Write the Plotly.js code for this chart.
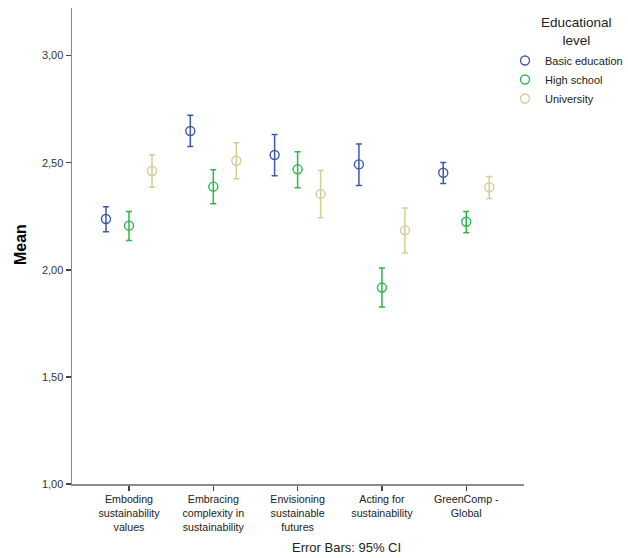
<!DOCTYPE html>
<html>
<head>
<meta charset="utf-8">
<script src="https://cdn.plot.ly/plotly-3.0.1.min.js"></script>
<style>html,body{margin:0;padding:0;background:#fff;}#chart{width:628px;height:558px;}</style>
</head>
<body>
<div id="chart"></div>
<script>
const categories = [
  "Emboding<br>sustainability<br>values",
  "Embracing<br>complexity in<br>sustainability",
  "Envisioning<br>sustainable<br>futures",
  "Acting for<br>sustainability",
  "GreenComp -<br>Global"
];
const groups = ["Basic education", "High school", "University"];
const colors = ["#3E58AC", "#2EB848", "#D3CE97"];

const basicMean  = [2.237, 2.648, 2.536, 2.492, 2.453];
const basicLower = [2.178, 2.575, 2.439, 2.394, 2.403];
const basicUpper = [2.294, 2.721, 2.631, 2.587, 2.501];

const highMean  = [2.206, 2.388, 2.469, 1.917, 2.224];
const highLower = [2.137, 2.308, 2.383, 1.826, 2.173];
const highUpper = [2.272, 2.467, 2.551, 2.008, 2.272];

const uniMean  = [2.461, 2.509, 2.354, 2.184, 2.385];
const uniLower = [2.385, 2.425, 2.243, 2.078, 2.333];
const uniUpper = [2.537, 2.593, 2.463, 2.288, 2.436];

const means = [basicMean, highMean, uniMean];
const lowers = [basicLower, highLower, uniLower];
const uppers = [basicUpper, highUpper, uniUpper];
const offsets = [-0.273, 0, 0.273];

const font = "Liberation Sans, Arial, sans-serif";

const traces = groups.map((g, k) => ({
  type: "scatter",
  mode: "markers",
  name: g,
  x: categories.map((c, i) => i + offsets[k]),
  y: means[k],
  marker: {symbol: "circle-open", size: 9, color: colors[k], line: {width: 1.4, color: colors[k]}},
  error_y: {
    type: "data", symmetric: false,
    array: means[k].map((m, i) => uppers[k][i] - m),
    arrayminus: means[k].map((m, i) => m - lowers[k][i]),
    color: colors[k], thickness: 1.5, width: 3
  },
  hoverinfo: "skip"
}));

const layout = {
  width: 628, height: 558,
  margin: {l: 72, r: 104, t: 8, b: 74, autoexpand: false},
  paper_bgcolor: "#fff", plot_bgcolor: "#fff",
  separators: ",.",
  font: {family: font, color: "#222", size: 11},
  showlegend: true,
  legend: {
    xref: "container", yref: "container",
    x: 505 / 628, xanchor: "left", y: 1 - 46 / 558, yanchor: "top",
    font: {family: font, size: 11, color: "#222"},
    bgcolor: "rgba(0,0,0,0)", borderwidth: 0, itemwidth: 30
  },
  xaxis: {
    range: [-0.676, 4.685],
    tickmode: "array", tickvals: categories.map((c, i) => i), ticktext: categories,
    showline: true, linecolor: "#8a8a8a", linewidth: 1.5,
    ticks: "outside", ticklen: 5, tickwidth: 1.5, tickcolor: "#444",
    showgrid: false, zeroline: false,
    tickfont: {family: font, size: 10.7, color: "#222"}
  },
  yaxis: {
    range: [1, 3.222],
    tickvals: [1, 1.5, 2, 2.5, 3], tickformat: ".2f",
    showline: true, linecolor: "#8a8a8a", linewidth: 1.5,
    ticks: "outside", ticklen: 5, tickwidth: 1.5, tickcolor: "#444",
    showgrid: false, zeroline: false,
    tickfont: {family: font, size: 11, color: "#333"}
  },
  annotations: [
    {text: "<b>Mean</b>", xref: "paper", yref: "paper", x: -0.115, xanchor: "center",
     y: 1 - (245 - 8) / 476, yanchor: "middle", textangle: -90,
     showarrow: false, font: {family: font, size: 16, color: "#000"}},
    {text: "Error Bars: 95% CI", xref: "paper", yref: "paper", x: 0.608, xanchor: "center",
     y: -0.133, yanchor: "middle",
     showarrow: false, font: {family: font, size: 13, color: "#222"}},
    {text: "Educational<br>level", xref: "paper", yref: "paper", x: 1.117, xanchor: "center",
     y: 1 - (31.5 - 8) / 476, yanchor: "middle",
     showarrow: false, align: "center", font: {family: font, size: 13.5, color: "#222"}}
  ]
};

Plotly.newPlot("chart", traces, layout, {staticPlot: true, displayModeBar: false});
</script>
</body>
</html>
